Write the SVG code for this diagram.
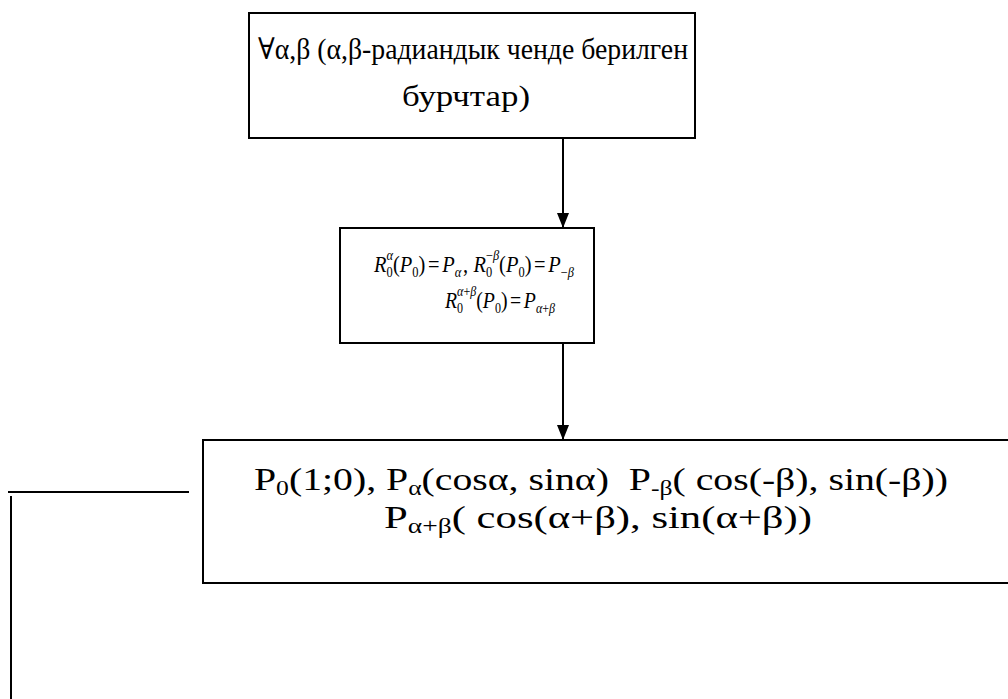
<svg xmlns="http://www.w3.org/2000/svg" width="1008" height="699" viewBox="0 0 1008 699">
<style>
.box{fill:#fff;stroke:#000;stroke-width:2}
.ln{stroke:#000;stroke-width:2;fill:none}
.t{font-family:'Liberation Serif','Times New Roman','DejaVu Serif',serif;font-size:30px;fill:#000}
.t3{font-size:31px}
.m{font-family:'Liberation Serif','Times New Roman','DejaVu Serif',serif;font-size:23px;fill:#000}
.i{font-style:italic}
.s{font-size:14px}
.sb{font-size:20px}
</style>
<defs>
<marker id="ah" markerWidth="15" markerHeight="12" refX="15" refY="6" orient="auto" markerUnits="userSpaceOnUse">
<path d="M0,0 L15,6 L0,12 Z" fill="#000"/>
</marker>
</defs>
<g id="connectors">
<line class="ln" x1="563" y1="138" x2="563" y2="228" marker-end="url(#ah)"/>
<line class="ln" x1="563" y1="343" x2="563" y2="440" marker-end="url(#ah)"/>
<line class="ln" x1="8" y1="492" x2="189" y2="492"/>
<line class="ln" x1="11" y1="496" x2="11" y2="699"/>
</g>
<g id="node1">
<rect class="box" x="249" y="13" width="446" height="125"/>
<text class="t" x="473" y="59" text-anchor="middle" textLength="430" lengthAdjust="spacingAndGlyphs">∀α,β (α,β-радиандык ченде берилген</text>
<text class="t" x="466" y="106" text-anchor="middle" textLength="128" lengthAdjust="spacingAndGlyphs">бурчтар)</text>
</g>
<g id="node2">
<rect class="box" x="340" y="228" width="254" height="115"/>
<text class="m" x="474" y="272" text-anchor="middle" textLength="200" lengthAdjust="spacingAndGlyphs"><tspan class="i">R</tspan><tspan class="s" dy="5">0</tspan><tspan class="s i" dx="-7" dy="-17">α</tspan><tspan dy="12">(</tspan><tspan class="i">P</tspan><tspan class="s" dy="5">0</tspan><tspan dy="-5">)</tspan><tspan dx="3">=</tspan><tspan class="i" dx="3">P</tspan><tspan class="s i" dy="5">α</tspan><tspan dy="-5" dx="2">,</tspan><tspan class="i" dx="6">R</tspan><tspan class="s" dy="5">0</tspan><tspan class="s" dx="-7" dy="-17">−</tspan><tspan class="s i">β</tspan><tspan dy="12">(</tspan><tspan class="i">P</tspan><tspan class="s" dy="5">0</tspan><tspan dy="-5">)</tspan><tspan dx="3">=</tspan><tspan class="i" dx="3">P</tspan><tspan class="s" dy="5">−</tspan><tspan class="s i">β</tspan></text>
<text class="m" x="500" y="308" text-anchor="middle" textLength="110" lengthAdjust="spacingAndGlyphs"><tspan class="i">R</tspan><tspan class="s" dy="5">0</tspan><tspan class="s i" dx="-7" dy="-17">α</tspan><tspan class="s">+</tspan><tspan class="s i">β</tspan><tspan dy="12">(</tspan><tspan class="i">P</tspan><tspan class="s" dy="5">0</tspan><tspan dy="-5">)</tspan><tspan dx="3">=</tspan><tspan class="i" dx="3">P</tspan><tspan class="s i" dy="5">α</tspan><tspan class="s">+</tspan><tspan class="s i">β</tspan></text>
</g>
<g id="node3">
<rect class="box" x="203" y="440" width="820" height="143"/>
<text class="t t3" x="601" y="490" text-anchor="middle" textLength="694" lengthAdjust="spacingAndGlyphs">P<tspan class="sb" dy="5">0</tspan><tspan dy="-5">(1;0), P</tspan><tspan class="sb" dy="5">α</tspan><tspan dy="-5">(cosα, sinα) &#160;P</tspan><tspan class="sb" dy="5">-β</tspan><tspan dy="-5">( cos(-β), sin(-β))</tspan></text>
<text class="t t3" x="598" y="528" text-anchor="middle" textLength="428" lengthAdjust="spacingAndGlyphs">P<tspan class="sb" dy="5">α+β</tspan><tspan dy="-5">( cos(α+β), sin(α+β))</tspan></text>
</g>
</svg>
